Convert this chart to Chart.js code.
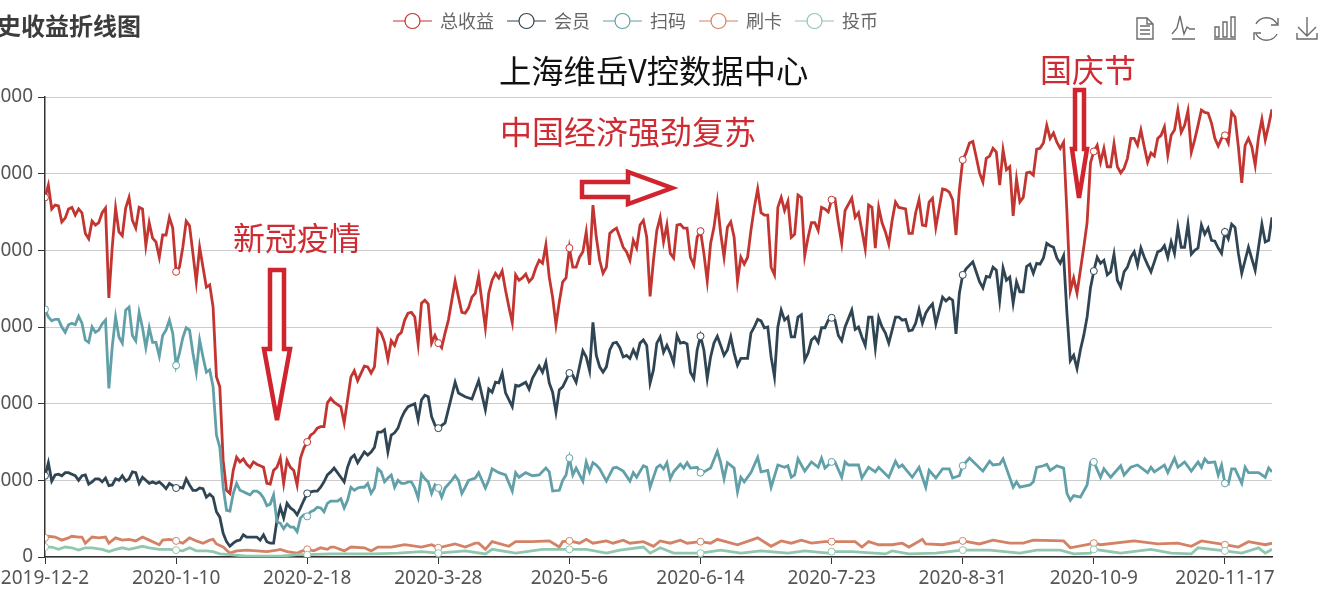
<!DOCTYPE html>
<html lang="zh-CN">
<head>
<meta charset="utf-8">
<title>历史收益折线图</title>
<script src="https://cdn.jsdelivr.net/npm/chart.js@4/dist/chart.umd.min.js"></script>
<style>
  html, body { margin: 0; padding: 0; width: 1324px; height: 596px; overflow: hidden; background: #fff; }
  body { position: relative; font-family: "Noto Sans CJK SC", "Noto Sans", sans-serif; }
  #chart { position: absolute; left: -30px; top: -2px; }
  #overlay { position: absolute; left: 0; top: 0; }
  .note { position: absolute; white-space: nowrap; line-height: 40px; font-size: 32px; color: #cf2b33; }
  #chartTitle { left: -27px; top: 5px; font-size: 24px; font-weight: 700; color: #3c3c3c; }
  #center { left: 499px; top: 49px; font-size: 32.3px; color: #111; }
  #recovery { left: 500px; top: 110px; }
  #covid { left: 233px; top: 216px; }
  #holiday { left: 1040px; top: 48px; }
</style>
</head>
<body>
<canvas id="chart" width="1363" height="598"></canvas>
<svg id="overlay" width="1324" height="596" fill="none">
  <!-- flechas -->
  <g stroke="#d0242e" stroke-width="4.5" fill="#fff" stroke-linejoin="miter">
    <path d="M270 270 H284 V349 H290 L277 420 L264 349 H270 Z"/>
    <path d="M582 182 H628 V172 L672 188 L628 204 V197 H582 Z"/>
    <path d="M1075 90 H1084 V149 H1087 L1079 198 L1072 149 H1075 Z"/>
  </g>
  <!-- iconos de la barra -->
  <g stroke="#6b6b6b" stroke-width="1.4">
    <path d="M1137 18 H1147 L1153 24 V39 H1137 Z M1147 18 V24 H1153 M1140 26 H1150 M1140 30 H1150 M1140 34 H1150"/>
    <path d="M1172 34 L1177 28 L1180 16 L1184 34 L1187 27 L1190 29 L1195 29 M1172 39 H1195"/>
    <path d="M1215 27 H1219 V37 H1215 Z M1223 22 H1227 V37 H1223 Z M1231 17 H1235 V37 H1231 Z M1214 39 H1236"/>
    <path d="M1256 24 A12 12 0 0 1 1277 24 M1277 34 A12 12 0 0 1 1256 34 M1278 18 V25 H1271 M1254 40 V33 H1261"/>
    <path d="M1307 17 V35 M1298 27 L1307 36 L1316 27 M1297 33 V39 H1317 V33"/>
  </g>
</svg>
<div class="note" id="chartTitle">历史收益折线图</div>
<div class="note" id="center">上海维岳V控数据中心</div>
<div class="note" id="recovery">中国经济强劲复苏</div>
<div class="note" id="covid">新冠疫情</div>
<div class="note" id="holiday">国庆节</div>
<script>
// Etiquetas del eje x, una cada 39 dias
const tickLabels = ['2019-12-2', '2020-1-10', '2020-2-18', '2020-3-28', '2020-5-6', '2020-6-14', '2020-7-23', '2020-8-31', '2020-10-9', '2020-11-17'];
const seriesNames = ['总收益', '会员', '扫码', '刷卡', '投币'];
const seriesColors = ['#c23531', '#2f4554', '#61a0a8', '#d48265', '#91c7ae'];

// 总收益, un valor por dia (null = sin lectura)
const totalIncome = [
  46900,48500,45400,45900,45800,43700,44200,45400,45600,44600,45400,44900,42200,
  41500,43800,43300,43600,44900,45500,33800,40400,45500,42400,41900,45500,46900,
  43900,42900,45600,45400,40600,43600,41600,41100,39100,42000,42000,44300,42900,
  37200,37800,40400,43800,43200,39600,35900,40400,37800,35200,35500,32600,23500,
  22200,12600,8700,8300,11300,13000,12400,12800,12100,11700,12400,12100,11900,
  11700,9600,9500,11300,11700,12900,9600,12600,11700,11300,9400,12900,14200,
  15000,15900,16200,16800,17000,17000,20100,20700,20200,null,19600,17500,null,
  23500,24300,23000,null,24900,24800,24000,24800,29700,29200,28000,25800,28200,
  27600,28900,29300,30900,31800,31900,31300,27800,33100,33500,33000,27900,28900,
  27900,27300,29200,30900,null,36000,33900,31900,31800,32500,33900,34400,36600,
  null,29900,34400,36100,37000,36400,37300,34800,32600,30600,36800,36100,36400,
  36900,35900,36400,37700,38700,38300,40700,36500,33900,30300,33300,35900,36400,
  40300,37800,37800,39100,39800,42400,38100,45900,41700,38700,37000,37800,42200,
  42600,42900,41700,40400,39800,38700,41300,40300,43300,43900,41700,34000,38700,
  42600,44300,41100,43300,39600,39000,43300,43400,42900,42900,39100,38100,41700,
  42500,39600,36000,40900,43000,46300,42200,39100,43000,43700,41700,36000,39100,
  38200,39100,42600,45600,48000,44900,44600,44600,37800,36800,45600,46900,45200,
  46400,41700,42100,47200,46900,39300,41700,43600,43600,42600,45600,45400,45000,
  46600,46700,43600,40900,45200,null,46800,44300,44900,42600,40200,45900,45600,
  40300,45600,43600,42400,40800,43900,46300,45600,null,45400,42200,42200,44900,
  46600,43300,43200,46300,46800,43000,null,48000,47900,47600,46600,42000,47900,
  51800,52700,54000,54200,52200,50100,48900,52000,52300,53300,52800,48500,53100,
  50500,50900,44500,49300,46300,46900,50100,50200,49800,53200,53300,54000,56300,
  54600,55300,54100,53300,54100,44900,34700,36400,34400,37400,40400,43600,51400,
  52900,53700,51500,53300,50900,50900,53900,50900,50100,50700,52000,54600,54600,
  53700,55700,53500,51500,52700,52300,54600,55000,56100,52400,55000,55700,58300,
  55400,56300,58200,52800,54400,56300,58300,58000,57900,56600,54600,53600,54600,
  55000,54000,58000,57400,53500,48800,53700,54600,53500,51100,54800,57100,54400,
  56300,58400
];

// 会员, un valor por dia
const memberIncome = [
  10600,12300,9900,10700,10800,10600,11000,11000,10800,10600,10000,10600,10700,
  9500,9800,10200,10200,9800,10300,9300,9400,10200,10000,10600,9900,10200,
  11100,11000,9600,10400,10000,9600,9800,9600,9800,9400,8900,9600,9300,
  9000,9100,9000,10200,9400,8700,8700,9000,8900,7800,8200,7800,5900,
  5200,3100,2000,1400,1800,2100,2200,2900,2600,2600,2600,2600,2200,
  2900,2000,1800,1800,4800,6500,5100,7000,6400,6100,5500,6400,7400,
  8300,8500,8600,8600,9100,9800,10700,11100,11600,11000,10400,9800,11700,
  12900,13300,12300,null,13700,13300,13700,14300,16300,16300,16600,13700,15900,
  16200,16800,18100,19000,19600,null,20000,17900,20500,21100,20900,18300,17200,
  16800,null,17500,null,null,22800,21400,null,20900,null,20600,null,23000,
  null,19200,21900,21500,22800,22700,24000,21400,null,19600,22400,22300,null,
  22800,21900,23300,null,24900,24100,25400,22700,21500,18900,21800,22200,null,
  24000,23700,22800,null,26900,26100,24300,30600,26300,24800,24100,24800,27000,
  27900,28000,27300,26100,26300,25900,27000,26100,27900,28300,27600,22700,24400,
  27900,28700,26700,27600,26600,25300,28900,27900,28000,27800,24100,23300,27000,
  28800,27000,23300,26100,27900,28800,27600,26300,27000,28700,26600,25000,25900,
  25900,25900,29200,30000,31000,30800,29900,30000,26100,23500,30000,32200,30900,
  31300,28700,28700,31300,31600,25700,26600,28300,28700,28000,29900,29900,30900,
  31200,30900,28900,28200,30000,null,32200,29700,30000,28700,27600,31300,31300,
  27300,31200,30000,29200,27900,29600,31300,31300,30900,31000,29500,29600,30500,
  32300,30500,31800,32500,33000,30400,null,33900,33400,33800,33500,29100,34400,
  36800,37600,null,38500,37200,35900,35100,36600,36500,37800,37400,33500,37700,
  36100,36500,33100,35900,34600,34600,37900,38200,37000,38300,38200,39000,40900,
  40600,40400,39000,38300,39300,31800,25600,26300,24600,27000,28900,31300,35100,
  37300,39100,38300,38700,36800,37200,39500,36100,35200,37200,37800,39100,39800,
  38100,40300,39100,38100,37200,38500,39800,40000,40600,39100,41100,39600,43000,
  40400,40400,43400,39500,40000,40300,43300,42100,42900,41300,41200,40300,39600,
  42400,41500,43400,43000,39600,37000,null,40400,null,37400,null,43400,41100,
  41300,44300
];

// 扫码, dias leidos y sus valores
const scanDays = [
  0,1,2,3,4,5,6,7,8,9,10,11,12,13,14,15,16,17,18,19,20,21,22,23,24,25,26,27,28,29,30,31,32,33,34,35,36,37,38,
  39,40,41,42,43,44,45,46,47,48,49,50,51,52,53,54,55,56,57,58,59,60,61,62,63,64,65,66,67,68,69,70,71,72,73,74,75,76,77,
  78,79,80,81,82,83,84,85,86,87,88,89,90,91,92,93,94,95,96,97,98,99,100,101,102,103,104,105,106,107,108,109,110,111,112,113,114,115,116,
  117,118,119,121,122,123,124,125,126,128,129,131,132,133,135,137,139,140,141,143,145,147,149,150,151,153,154,155,
  156,157,158,160,161,162,163,164,165,167,169,170,172,174,175,176,178,179,180,182,183,184,185,186,187,189,190,191,192,194,
  195,196,198,200,201,202,203,205,206,207,208,210,212,213,215,216,218,220,221,222,223,224,226,228,230,231,232,233,
  234,235,237,238,239,242,243,245,247,248,251,253,254,255,258,260,262,263,265,267,269,270,272,
  273,275,279,281,282,284,285,288,289,290,293,294,295,297,298,299,301,303,304,305,306,308,310,311,
  312,314,315,317,320,321,323,325,328,329,330,333,334,336,337,339,341,343,344,345,346,348,349,350,
  351,352,353,354,356,357,358,361,363,364,365
];
const scanIncome = [
  32300,31300,30800,31000,31000,30000,29300,30300,30500,30300,31400,30500,28300,28000,30000,29300,29600,30400,30900,22000,27400,31300,28700,27900,32200,32600,28900,28200,31900,29900,27300,29900,28000,28000,26200,28900,29600,30900,29200,
  25000,26600,28600,29900,29600,26600,24100,28300,26100,24100,24400,22200,15900,14300,9100,6100,6000,8300,9600,8700,8500,8300,8100,8600,8600,8300,7700,6700,6900,8100,4600,4400,3700,4300,3900,3900,3300,5100,5500,
  5300,5900,6100,6500,6400,5900,7000,7300,7300,7300,7600,6400,7400,9100,8700,9000,9100,9100,9600,8300,9000,11500,11100,9800,10300,10700,9100,10000,9600,9600,9800,9800,9000,7700,10800,10200,9800,8300,9400,
  9000,7800,9000,10000,10600,10000,8300,9100,10000,10300,11000,9000,10000,11500,11000,10700,8600,11000,10400,11000,10600,10700,11600,11100,8600,8700,10000,10700,
  12900,10700,11600,9900,12400,11100,12300,12000,11500,9900,11600,11700,11200,9900,11000,10400,11900,11700,9100,11700,12000,11500,12300,10200,11100,12100,11600,12300,11600,11700,
  11000,11100,11600,13800,12300,10200,12300,11600,8500,10400,9800,11000,13000,11100,11300,9100,12000,11700,11900,10400,10700,12800,11200,12400,11700,12900,11600,12000,
  12400,12400,10400,12400,12000,12000,10300,11700,11100,11700,10400,12500,11700,12000,10400,11700,9100,11300,10300,11500,11500,10300,10600,
  11900,12900,11200,12500,12000,12100,12800,9100,9800,9100,9400,9800,11700,11900,12100,11300,11900,11600,8300,7400,8000,7800,9400,12300,
  12400,10400,11500,10400,11900,10700,11700,12000,11000,11700,11100,12000,11000,12900,11700,12400,11200,12400,11700,12800,12300,12400,10700,12000,
  9600,9500,11500,11500,9600,11700,11000,11000,10400,11600,11100
];

// 刷卡
const cardDays = [
  0,1,3,5,7,8,10,11,12,14,16,18,19,21,23,25,27,29,31,33,34,35,37,39,41,43,45,47,49,50,51,53,55,57,60,63,66,69,70,72,75,76,
  78,80,82,84,85,86,89,91,95,97,99,103,107,112,115,117,122,125,128,129,131,133,138,140,145,150,153,154,
  156,159,161,163,167,169,172,174,178,181,183,186,189,191,195,198,200,206,212,216,219,222,225,228,232,
  234,238,241,243,245,248,252,255,257,261,262,267,273,278,282,287,291,294,303,305,310,312,314,324,331,337,341,344,351,355,358,363,365
];
const cardIncome = [
  2500,2700,2600,2200,2500,2700,2600,2600,1800,2600,2500,2600,1800,2500,2200,2300,2100,2600,2200,1800,1600,2200,2300,2100,1800,2500,2100,1800,2200,2300,1700,1300,500,800,900,800,700,900,1000,700,500,700,
  1000,800,1200,1000,1300,1300,800,1300,1200,800,1300,1300,1600,1300,1600,1200,1700,1300,1800,1800,1000,2000,1400,2000,2000,2100,1300,2000,
  2100,1800,2300,1800,2100,1800,2200,1800,2000,1400,2100,1800,2200,1800,2000,1800,2300,1600,2500,1400,2100,1800,2200,1800,2000,
  2000,2000,2000,1300,2000,1600,1600,1800,1300,2300,1700,1600,2100,1700,2200,1800,1800,2200,2100,1200,1600,1800,1600,2100,1700,1800,1400,2100,1600,1300,2000,1600,1800
];

// 投币
const coinDays = [
  0,2,4,6,8,10,12,14,17,19,21,23,25,27,29,31,34,37,39,41,43,45,48,50,52,55,60,65,70,75,78,85,91,98,105,112,117,125,131,133,140,148,156,161,167,171,178,180,183,187,
  195,201,207,213,221,226,233,234,240,250,252,257,265,273,281,290,295,302,306,311,312,320,329,335,341,343,351,356,361,363,365
];
const coinIncome = [
  1300,1300,1000,1300,1200,900,1200,1200,1000,700,1000,1200,1000,1200,1400,1200,1000,1000,900,800,1200,800,800,700,400,300,100,100,100,300,300,400,400,400,500,700,500,800,400,1000,500,1000,1000,1000,500,900,1300,500,1200,500,
  500,900,500,800,500,800,500,700,700,400,800,400,500,900,900,500,900,900,400,500,1000,500,1000,500,400,1200,800,500,1200,500,1000
];

// Simbolo de leyenda: linea con circulo hueco
function legendSymbol(color) {
  const c = document.createElement('canvas');
  c.width = 39;
  c.height = 20;
  const g = c.getContext('2d');
  g.strokeStyle = color;
  g.lineWidth = 1.2;
  g.beginPath();
  g.moveTo(0, 10);
  g.lineTo(39, 10);
  g.stroke();
  g.beginPath();
  g.arc(19.5, 10, 7.5, 0, Math.PI * 2);
  g.fillStyle = '#fff';
  g.fill();
  g.stroke();
  return c;
}

const seriesPoints = [
  totalIncome.map((y, x) => ({ x, y })),
  memberIncome.map((y, x) => ({ x, y })),
  scanDays.map((x, i) => ({ x, y: scanIncome[i] })),
  cardDays.map((x, i) => ({ x, y: cardIncome[i] })),
  coinDays.map((x, i) => ({ x, y: coinIncome[i] })),
];

const datasets = seriesNames.map((name, i) => ({
  label: name,
  data: seriesPoints[i],
  borderColor: seriesColors[i],
  backgroundColor: '#fff',
  borderWidth: 2.8,
  tension: 0,
  spanGaps: true,
  order: seriesNames.length - i,
  pointRadius: ctx => (ctx.raw && ctx.raw.x % 39 === 0 ? 3.5 : 0),
  pointBackgroundColor: '#fff',
  pointBorderColor: seriesColors[i],
  pointBorderWidth: 1,
}));

const legendSymbols = seriesColors.map(legendSymbol);

// Deja la zona de la leyenda con la altura fija del original
const legendHeight = {
  id: 'legendHeight',
  beforeInit(chart) {
    const fit = chart.legend.fit;
    chart.legend.fit = function () {
      fit.call(chart.legend);
      this.height = 99;
    };
  },
};

new Chart(document.getElementById('chart'), {
  type: 'line',
  data: { datasets },
  plugins: [legendHeight],
  options: {
    responsive: false,
    animation: false,
    devicePixelRatio: 1,
    events: [],
    layout: { padding: { left: 30, right: 61, top: 0, bottom: 0 } },
    plugins: {
      tooltip: { enabled: false },
      legend: {
        position: 'top',
        labels: {
          font: { family: '"Noto Sans CJK SC"', size: 18 },
          color: '#666',
          padding: 14,
          usePointStyle: true,
          pointStyleWidth: 37,
          sort: (a, b) => a.datasetIndex - b.datasetIndex,
          generateLabels(chart) {
            return Chart.defaults.plugins.legend.labels.generateLabels(chart).map(item => ({
              ...item,
              pointStyle: legendSymbols[item.datasetIndex],
              fontColor: '#666',
            }));
          },
        },
      },
    },
    scales: {
      x: {
        type: 'linear',
        min: 0,
        max: 365,
        afterFit(scale) { scale.height = 39; },
        border: { color: '#333', width: 1.5 },
        grid: { drawOnChartArea: false, tickLength: 7, tickColor: '#333' },
        ticks: {
          stepSize: 39,
          includeBounds: false,
          autoSkip: false,
          maxRotation: 0,
          padding: 3,
          color: '#555',
          font: { family: '"Noto Sans"', size: 19 },
          callback: value => tickLabels[value / 39],
        },
      },
      y: {
        min: 0,
        max: 60000,
        afterFit(scale) { scale.width = 45; },
        border: { color: '#333', width: 1.5 },
        grid: { color: '#ccc', tickLength: 7, tickColor: '#333' },
        ticks: {
          stepSize: 10000,
          padding: 5,
          color: '#555',
          font: { family: '"Noto Sans"', size: 19 },
        },
      },
    },
  },
});
</script>
</body>
</html>
